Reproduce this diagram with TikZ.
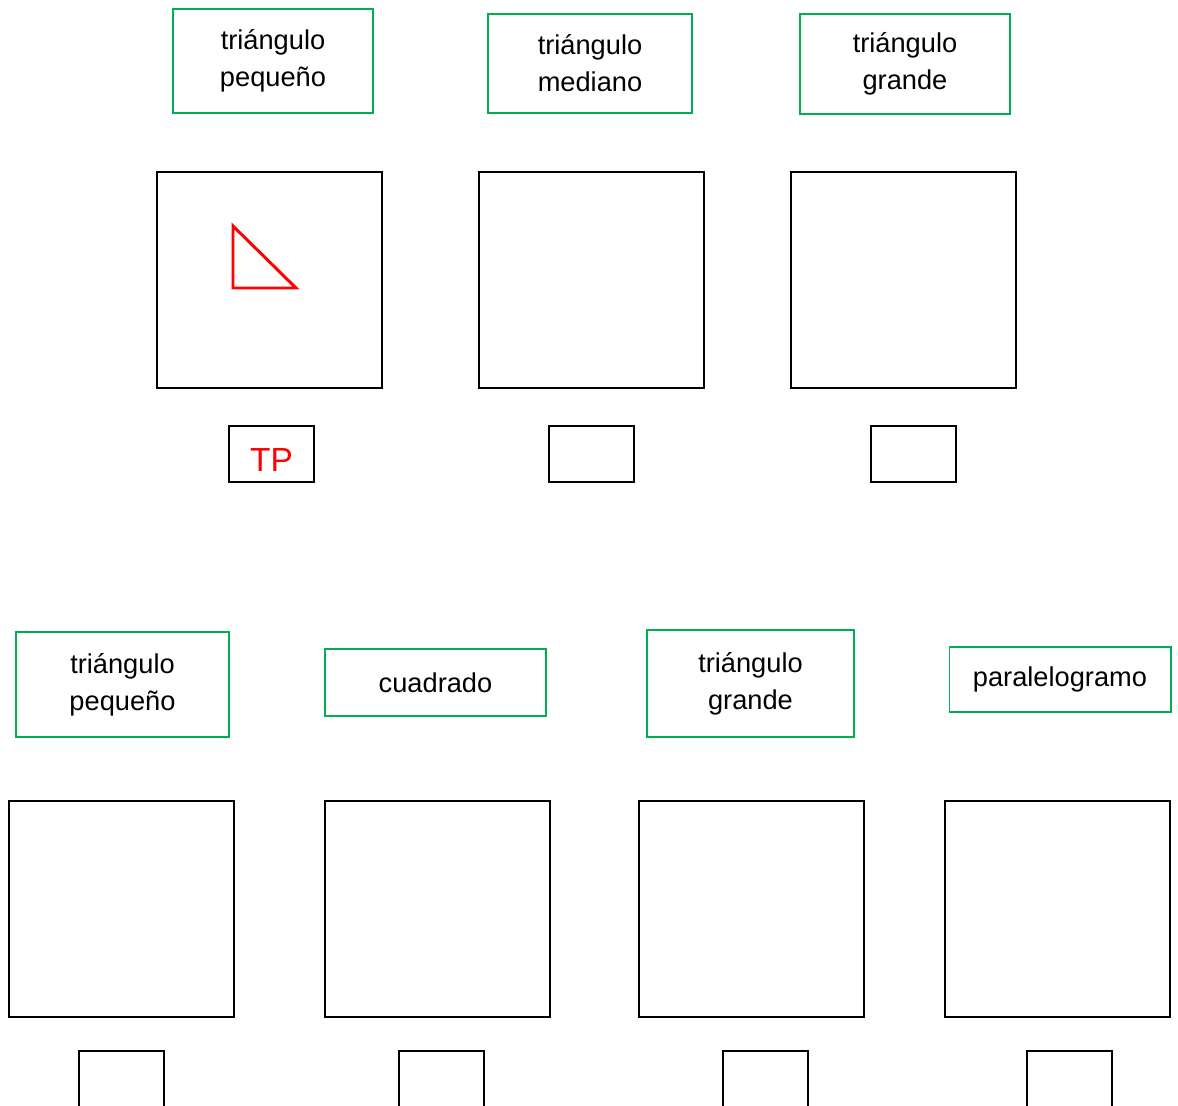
\documentclass[tikz,border=0pt]{standalone}
\usepackage{fontspec}
\setmainfont{Liberation Sans}
\definecolor{labelgreen}{RGB}{0,176,80}

\begin{document}
\begin{tikzpicture}[x=0.02cm,y=-0.02cm,
    label box/.style={draw=labelgreen,line width=0.6pt,align=center,inner sep=0pt,
        font=\fontsize{15.5}{21}\selectfont},
    work square/.style={draw,line width=1.1pt,minimum width=4.5cm,minimum height=4.32cm,inner sep=0pt},
    answer box/.style={draw,line width=1.1pt,minimum width=1.7cm,minimum height=1.12cm,inner sep=0pt,
        font=\fontsize{19}{21}\selectfont}]

\useasboundingbox (0,0) rectangle (1178,1106);
\clip (0,0) rectangle (1178,1106);

% upper row
\node[label box,minimum width=4cm,minimum height=2.08cm] (LabelTP) at (273,61) {triángulo\\pequeño};
\node[label box,minimum width=4.08cm,minimum height=1.98cm] (LabelTM) at (590,63.5) {triángulo\\mediano};
\node[label box,minimum width=4.2cm,minimum height=2cm] (LabelTG) at (905,64) {triángulo\\grande};

\node[work square] (SqTP) at (269.5,280) {};
\node[work square] (SqTM) at (591.5,280) {};
\node[work square] (SqTG) at (903.5,280) {};

\draw[red,line width=1.7pt] (233,226)--(233,288)--(296,288)--cycle;

\node[answer box,text=red] (AnsTP) at (271.5,454) {\smash{\raisebox{-10pt}{TP}}};
\node[answer box] (AnsTM) at (591.5,454) {};
\node[answer box] (AnsTG) at (913.5,454) {};

% lower row
\node[label box,minimum width=4.26cm,minimum height=2.1cm] (LabelTP2) at (122.5,684.5) {triángulo\\pequeño};
\node[label box,minimum width=4.42cm,minimum height=1.34cm] (LabelSq) at (435.5,682.5) {cuadrado};
\node[label box,minimum width=4.14cm,minimum height=2.14cm] (LabelTG2) at (750.5,683.5) {triángulo\\grande};
\node[label box,minimum width=4.44cm,minimum height=1.3cm] (LabelPa) at (1060,679.5) {paralelogramo};

\node[work square] (SqTP2) at (121.5,909) {};
\node[work square] (SqSq) at (437.5,909) {};
\node[work square] (SqTG2) at (751.5,909) {};
\node[work square] (SqPa) at (1057.5,909) {};

\node[answer box] (AnsTP2) at (121.5,1079) {};
\node[answer box] (AnsSq) at (441.5,1079) {};
\node[answer box] (AnsTG2) at (765.5,1079) {};
\node[answer box] (AnsPa) at (1069.5,1079) {};
\end{tikzpicture}
\end{document}
